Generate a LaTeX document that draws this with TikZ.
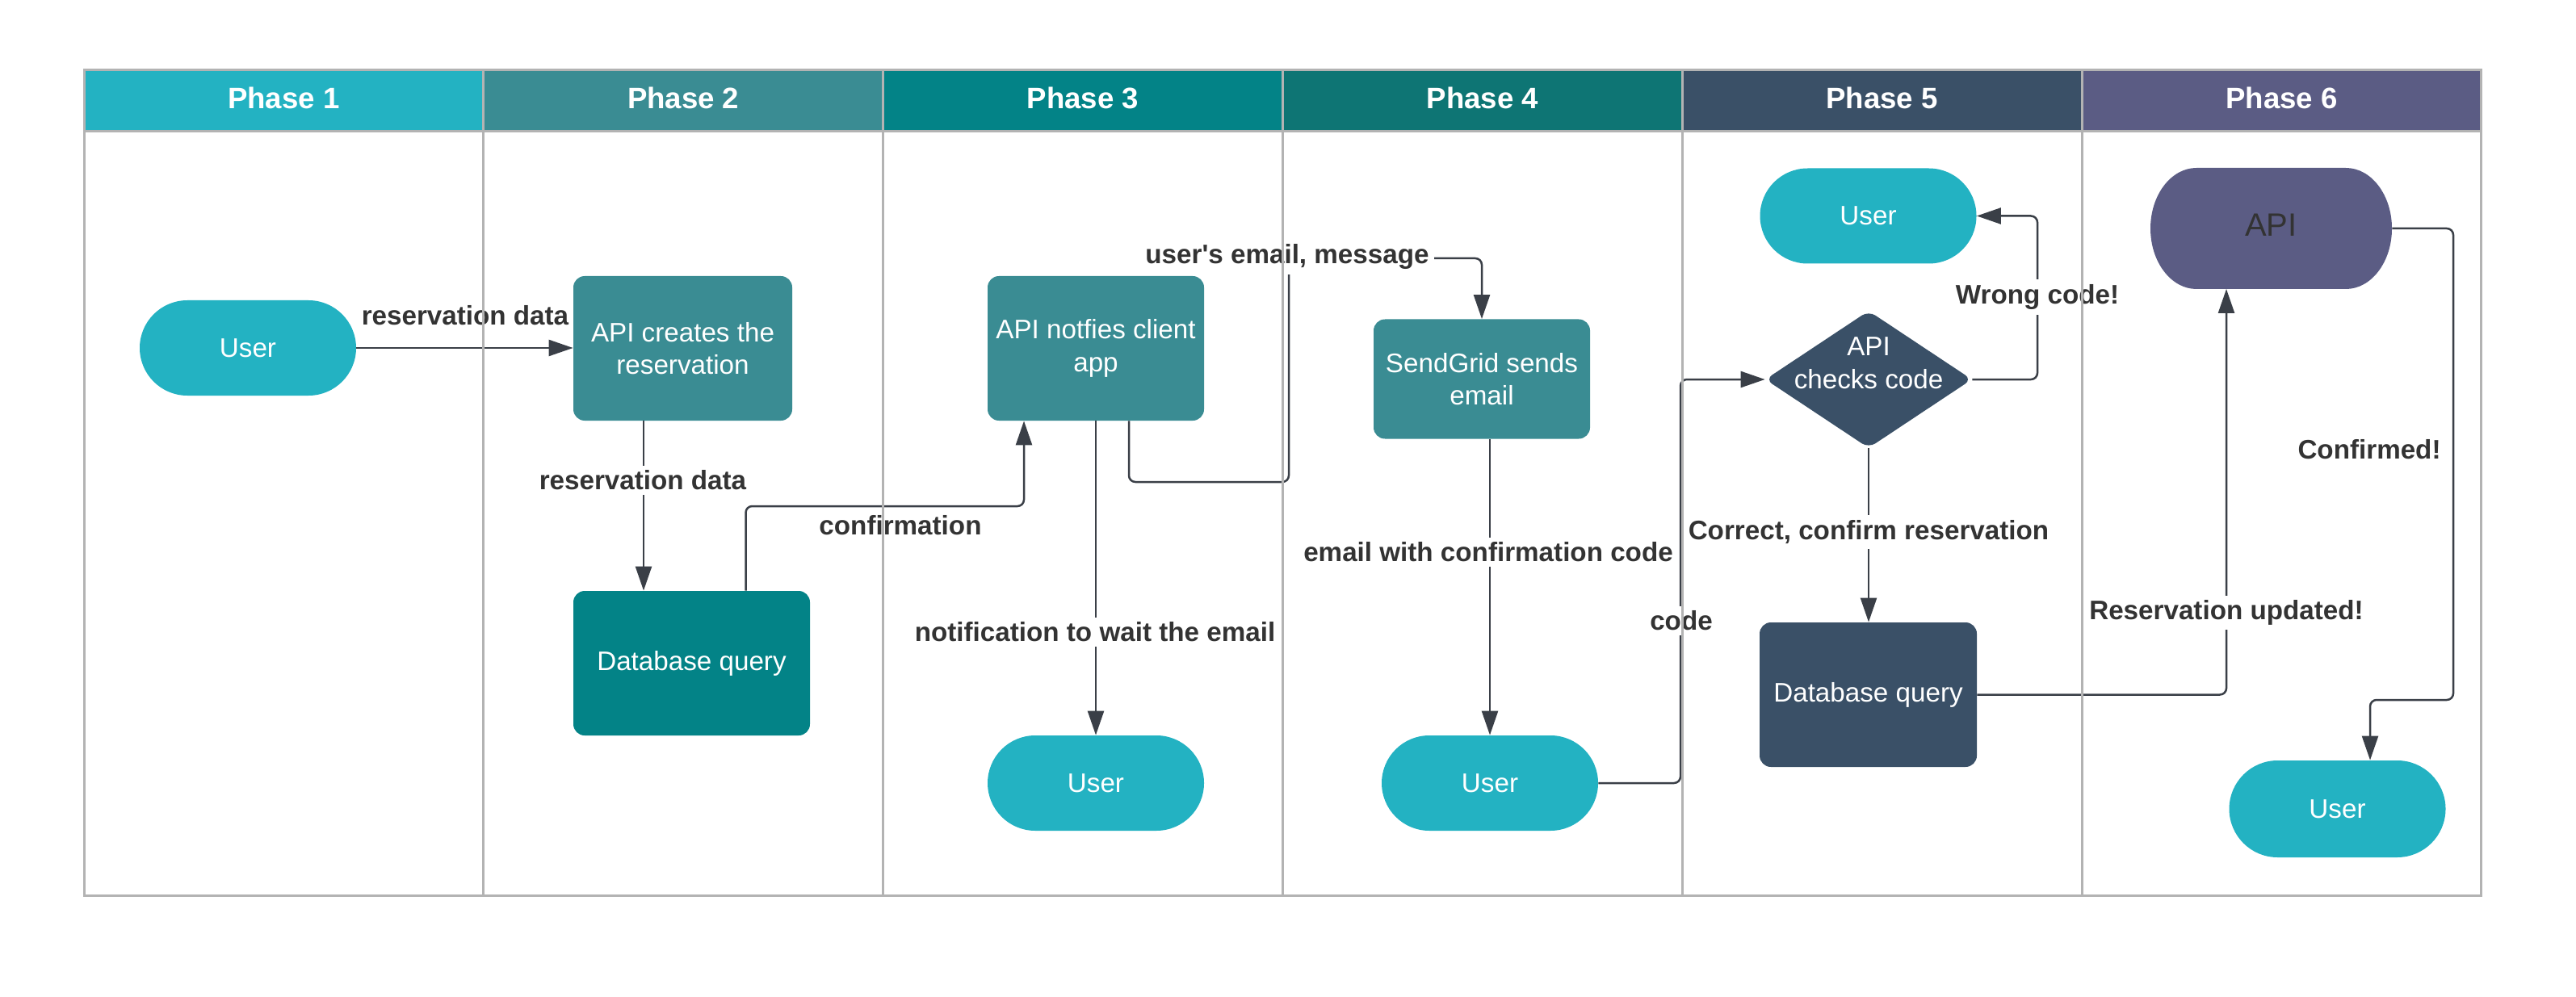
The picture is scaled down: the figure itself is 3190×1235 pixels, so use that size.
\documentclass[tikz,border=0pt]{standalone}
\usepackage{fontspec}
\setmainfont{Liberation Sans}
\newfontfamily\plainsans{Liberation Sans}
\usetikzlibrary{arrows.meta,shapes.misc,shapes.geometric}
\definecolor{ucyan}{RGB}{35,178,194}
\definecolor{tgray}{RGB}{58,140,147}
\definecolor{teal3}{RGB}{3,131,135}
\definecolor{teal4}{RGB}{14,117,116}
\definecolor{slate}{RGB}{58,80,103}
\definecolor{purp}{RGB}{91,92,132}
\definecolor{conncol}{RGB}{58,63,71}
\definecolor{lblcol}{RGB}{51,51,51}
\definecolor{framecol}{RGB}{179,179,179}
\newcommand\nfnt{\fontsize{16.6}{20.3}\selectfont}
\newcommand\lfnt{\fontsize{16.6}{20.3}\selectfont\bfseries}
\newcommand\hfnt{\fontsize{18.3}{22}\selectfont\bfseries}
\begin{document}
\begin{tikzpicture}[x=0.5pt,y=-0.5pt,
  conn/.style={draw=conncol, line width=1.25pt, rounded corners=4pt, -{Triangle[length=15pt,width=10pt]}},
  usr/.style={rounded rectangle, fill=ucyan, minimum width=134pt, minimum height=59pt, inner sep=0pt, text=white, font=\nfnt},
  boxn/.style={rectangle, rounded corners=7pt, minimum height=89.5pt, inner sep=2pt, text=white, align=center, font=\nfnt},
  lbl/.style={fill=white, text=lblcol, font=\lfnt, inner sep=3pt},
  hdr/.style={text=white, font=\hfnt},
  lane/.style={draw=framecol, line width=1.5pt}]
\fill[white] (0,0) rectangle (3190,1235);
\useasboundingbox (0,0) rectangle (3190,1235);
% headers
\fill[ucyan] (104,87) rectangle (598.8,163);
\fill[tgray] (598.8,87) rectangle (1093.6,163);
\fill[teal3] (1093.6,87) rectangle (1588.4,163);
\fill[teal4] (1588.4,87) rectangle (2083.2,163);
\fill[slate] (2083.2,87) rectangle (2578,163);
\fill[purp] (2578,87) rectangle (3072.8,163);
\node[hdr] (h1) at (351.4,121) {Phase 1};
\node[hdr] (h2) at (846.2,121) {Phase 2};
\node[hdr] (h3) at (1341,121) {Phase 3};
\node[hdr] (h4) at (1835.8,121) {Phase 4};
\node[hdr] (h5) at (2330.6,121) {Phase 5};
\node[hdr] (h6) at (2825.4,121) {Phase 6};
% nodes
\node[usr] (u1) at (307,431) {User};
\node[boxn, fill=tgray, minimum width=135.5pt] (api1) at (845.5,431.5) {API creates the\\reservation};
\node[boxn, fill=teal3, minimum width=146.5pt] (db1) at (856.5,821.5) {Database query};
\node[boxn, fill=tgray, minimum width=134pt] (api2) at (1357,431.5) {API notfies client\\app};
\node[usr] (u3) at (1357,970) {User};
\node[boxn, fill=tgray, minimum width=134pt, minimum height=74pt] (sg) at (1835,469.5) {SendGrid sends\\email};
\node[usr] (u4) at (1845,970) {User};
\node[usr] (u5) at (2313.5,267.5) {User};
\node[diamond, fill=slate, minimum width=128pt, minimum height=85pt, inner sep=0pt, rounded corners=5pt] (chk) at (2314,470) {};
\node[text=white, font=\nfnt, align=center] (chkt) at (2314,450) {API\\checks code};
\node[boxn, fill=slate, minimum width=134.5pt] (db5) at (2313.5,860.5) {Database query};
\fill[purp] (2720,208) -- (2905,208) arc[start angle=90, end angle=-90, x radius=28.5pt, y radius=37.5pt] -- (2720,358) arc[start angle=270, end angle=90, x radius=28.5pt, y radius=37.5pt] -- cycle;
\node[rounded rectangle, minimum width=149.5pt, minimum height=75pt, inner sep=0pt, text=lblcol, font=\fontsize{20}{24}\selectfont] (api6) at (2812.5,279) {API};
\node[usr, minimum height=60pt] (u6) at (2894.5,1002) {User};
% connectors
\draw[conn] (u1.east) -- (u1.east -| api1.west);
\draw[conn] ([xshift=-24.25pt]api1.south) -- ([xshift=-24.25pt]api1.south |- db1.north);
\coordinate (c3) at (1268,627);
\draw[conn] ([xshift=33.5pt]db1.north) |- (c3) -- (c3 |- api2.south);
\draw[conn] (api2.south) -- (u3.north);
\coordinate (c5a) at (1596,597);
\coordinate (c5b) at (1596,320);
\draw[conn] ([xshift=20.5pt]api2.south) |- (c5a) -- (c5b) -| (sg.north);
\draw[conn] (u4.north |- sg.south) -- (u4.north);
\coordinate (c7) at (2081,970);
\draw[conn] (u4.east) -- (c7) |- (chk.west);
\coordinate (c8) at (2523,470);
\draw[conn] (chk.east) -- (c8) |- (u5.east);
\draw[conn] (chk.south) -- (chk.south |- db5.north);
\coordinate (c10) at (2757,358);
\draw[conn] (db5.east) -| (c10);
\coordinate (c11) at (3038,867);
\draw[conn] ([yshift=-2pt]api6.east) -| (c11) -| ([xshift=20.25pt]u6.north);
% labels
\node[lbl] (l1) at (576,391) {reservation data};
\node[lbl] (l2) at (796,595) {reservation data};
\node[lbl] (l3) at (1115,651) {confirmation};
\node[lbl] (l4) at (1356,783) {notification to wait the email};
\node[lbl, font=\plainsans\lfnt] (l5) at (1594,318) {user's email, message};
\node[lbl] (l6) at (1843,684) {email with confirmation code};
\node[lbl] (l7) at (2082,769) {code};
\node[lbl] (l8) at (2523,368) {Wrong code!};
\node[lbl] (l9) at (2314,659) {Correct, confirm reservation};
\node[lbl] (l10) at (2757,759) {Reservation updated!};
\node[lbl] (l11) at (2934,557) {Confirmed!};
% lane frame
\draw[lane] (104,87) rectangle (3072.8,1109);
\draw[lane] (104,163) -- (3072.8,163);
\foreach \xx in {598.8,1093.6,1588.4,2083.2,2578} {\draw[lane] (\xx,87) -- (\xx,1109);}
\end{tikzpicture}
\end{document}
